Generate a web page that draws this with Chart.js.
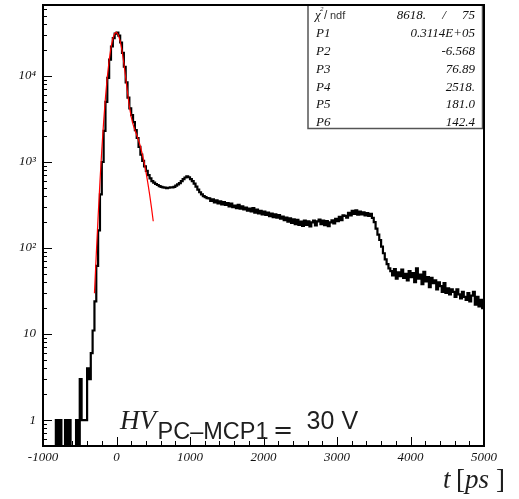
<!DOCTYPE html>
<html><head><meta charset="utf-8">
<script src="https://cdn.jsdelivr.net/npm/chart.js@4.4.0/dist/chart.umd.min.js"></script>
<style>html,body{margin:0;padding:0;background:#fff;overflow:hidden}</style>
</head><body>
<canvas id="c" width="519" height="499"></canvas>
<script>
// ---- data ----
const binStart = -1000;   // ps, left edge of first bin
const binWidth = 25;      // ps
const counts = [
  0,0,0,0,0,0,0,1,0,1,                         // -1000 .. -775
  0,0,1,0,1,0,0,0,1,0,                         // -750 .. -525
  3,1,1,1,4,3,6,11,24,62,                      // -500 .. -275
  160,420,1000,2300,5000,9500,15500,22000,27500,31000,   // -250 .. -25
  32000,29500,24500,18500,12800,8400,5600,4200,3500,2900, // 0 .. 225
  2350,1900,1500,1220,1030,890,790,705,645,600,           // 250 .. 475
  575,555,540,525,515,508,503,498,502,508,     // 500 .. 725
  505,515,530,548,568,600,632,660,682,665,     // 750 .. 975
  632,598,560,518,478,445,420,402,390,381,     // 1000 .. 1225
  378,352,368,340,358,330,348,322,341,318,     // 1250 .. 1475
  332,305,328,298,312,290,318,286,305,281,     // 1500 .. 1725
  296,272,288,266,292,258,279,252,270,246,     // 1750 .. 1975
  266,243,258,234,252,228,247,225,242,219,     // 2000 .. 2225
  232,211,226,203,222,196,216,190,212,186,     // 2250 .. 2475
  203,181,209,186,204,179,199,208,183,204,     // 2500 .. 2725
  214,189,208,184,205,180,199,210,193,219,     // 2750 .. 2975
  205,230,211,240,236,226,256,240,270,250,     // 3000 .. 3225
  275,245,266,246,259,240,254,236,249,224,     // 3250 .. 3475
  200,168,143,124,104,87,74,65,58,54,          // 3500 .. 3725
  48,57,44,52,47,56,45,50,42,54,               // 3750 .. 3975
  46,51,40,58,44,49,38,53,41,46,               // 4000 .. 4225
  35,45,39,42,33,40,36,31,39,30,               // 4250 .. 4475
  34,29,33,31,27,33,29,26,31,27,               // 4500 .. 4725
  25,30,24,28,31,22,27,21,25,20                // 4750 .. 4975
];
const fitT = [-300,-275,-250,-225,-200,-175,-150,-125,-100,-75,-50,-25,0,25,50,75,100,125,150,175,200,225,250,275,300,325,350,375,400,425,450,475,500];
const fitY = [29.8,85,233,594,1384,2938,5634,9760,15241,21457,27226,31143,32149,30006,25403,19649,14059,9534,6376,4432,3340,2735,2358,2063,1787,1513,1246,995,772,580,423,299,205];
const xTickValues = [-1000,0,1000,2000,3000,4000,5000];
const xTickLabels = ['-1000','0','1000','2000','3000','4000','5000'];
const yTickValues = [1,10,100,1000,10000];
const yTickLabels = ['1','10','10\u00B2','10\u00B3','10\u2074'];
const statsNames = ['P1','P2','P3','P4','P5','P6'];
const statsValues = ['0.3114E+05','-6.568','76.89','2518.','181.0','142.4'];
const chi2Value = '8618.';
const ndfValue = '75';

// ---- build datasets ----
const EMPTY = 1e-3; // empty bins fall below the axis, as in ROOT log plots
const histPoints = counts.map((c, i) => ({x: binStart + i * binWidth, y: c > 0 ? c : EMPTY}));
histPoints.push({x: binStart + counts.length * binWidth, y: counts[counts.length - 1] > 0 ? counts[counts.length - 1] : EMPTY});
const fitPoints = fitT.map((t, i) => ({x: t, y: fitY[i]}));

const SERIF = '"Liberation Serif","DejaVu Serif",serif';
const SANS = '"Liberation Sans","DejaVu Sans",sans-serif';

const rootPlugin = {
  id: 'rootDecor',
  afterDatasetsDraw(chart) {
    const {ctx, chartArea: a, scales: {x, y}} = chart;
    ctx.save();
    // tick marks (inside the frame)
    ctx.strokeStyle = '#000';
    ctx.lineWidth = 1;
    ctx.beginPath();
    for (let v = -1000; v <= 5000; v += 200) {
      const px = Math.round(x.getPixelForValue(v)) + 0.5;
      const len = (Math.abs(v) % 1000 === 0) ? 9 : 5;
      ctx.moveTo(px, a.bottom); ctx.lineTo(px, a.bottom - len);
    }
    for (let d = -1; d <= 4; d++) {
      for (let m = 1; m <= 9; m++) {
        const v = m * Math.pow(10, d);
        if (v <= y.min || v >= y.max) continue;
        const py = Math.round(y.getPixelForValue(v)) + 0.5;
        const len = m === 1 ? 9 : 4;
        ctx.moveTo(a.left, py); ctx.lineTo(a.left + len, py);
      }
    }
    ctx.stroke();

    // stats box
    const bx = 308, by = a.top, bw = a.right - 1.5 - bx, bh = 128.5 - a.top;
    ctx.fillStyle = '#fff';
    ctx.fillRect(bx, by, bw, bh);
    ctx.strokeStyle = '#555';
    ctx.lineWidth = 1.5;
    ctx.strokeRect(bx, by, bw, bh);

    ctx.fillStyle = '#111';
    ctx.textBaseline = 'alphabetic';
    const rowY = i => 19.3 + 17.8 * i;
    const lx = 315, rx = 475;
    // chi2/ndf row
    ctx.textAlign = 'left';
    ctx.font = 'italic 13px ' + SERIF;
    ctx.fillText('\u03C7', lx, rowY(0));
    ctx.font = 'italic 7px ' + SERIF;
    ctx.fillText('2', lx + 5, rowY(0) - 8);
    ctx.font = '12px ' + SANS;
    ctx.fillStyle = '#333';
    ctx.fillText('/', lx + 9, rowY(0));
    ctx.font = '11px ' + SANS;
    ctx.fillText('ndf', lx + 15, rowY(0));
    ctx.fillStyle = '#111';
    ctx.font = 'italic 13px ' + SERIF;
    ctx.textAlign = 'right';
    ctx.fillText(chi2Value, 426, rowY(0));
    ctx.textAlign = 'center';
    ctx.fillText('/', 444, rowY(0));
    ctx.textAlign = 'right';
    ctx.fillText(ndfValue, rx, rowY(0));
    statsNames.forEach((n, i) => {
      ctx.textAlign = 'left';
      ctx.fillText(n, lx + 1, rowY(i + 1));
      ctx.textAlign = 'right';
      ctx.fillText(statsValues[i], rx, rowY(i + 1));
    });

    // frame
    ctx.strokeStyle = '#000';
    ctx.lineWidth = 2;
    ctx.strokeRect(a.left, a.top, a.right - a.left, a.bottom - a.top);

    // annotation  HV_{PC-MCP1} = 30 V
    ctx.fillStyle = '#1e1e1e';
    ctx.textAlign = 'left';
    ctx.font = 'italic 27px ' + SERIF;
    ctx.fillText('HV', 120, 429);
    ctx.font = '23.5px ' + SANS;
    ctx.fillText('PC\u2013MCP1', 157.5, 439);
    ctx.font = '24px "DejaVu Sans",sans-serif';
    ctx.fillText('=', 273, 438);
    ctx.font = '25px ' + SANS;
    ctx.fillText('30', 306.5, 429.3);
    ctx.fillText('V', 341.5, 429.3);

    // axis title  t [ps]
    ctx.fillStyle = '#1e1e1e';
    ctx.font = 'italic 27px ' + SERIF;
    ctx.fillText('t', 443, 488);
    ctx.font = '27px ' + SERIF;
    ctx.fillText('[', 456, 488);
    ctx.font = 'italic 27px ' + SERIF;
    ctx.fillText('ps', 465, 488);
    ctx.font = '27px ' + SERIF;
    ctx.fillText(']', 496, 488);
    ctx.restore();
  }
};

new Chart(document.getElementById('c'), {
  type: 'line',
  data: {
    datasets: [
      {label: 'fit', data: fitPoints, borderColor: '#ff0000', borderWidth: 1.2, pointRadius: 0, fill: false, tension: 0},
      {label: 'hist', data: histPoints, borderColor: '#000', borderWidth: 2.2, pointRadius: 0, fill: false, stepped: 'before'}
    ]
  },
  options: {
    responsive: false,
    animation: false,
    devicePixelRatio: 1,
    layout: {padding: {left: 0, right: 35, top: 5, bottom: 0}},
    plugins: {legend: {display: false}, tooltip: {enabled: false}},
    scales: {
      x: {
        type: 'linear', min: -1000, max: 5000,
        afterBuildTicks: s => { s.ticks = xTickValues.map(v => ({value: v})); },
        afterFit: s => { s.height = 53; s.paddingLeft = 0; s.paddingRight = 0; },
        grid: {display: false, drawTicks: false},
        border: {display: false},
        ticks: {
          autoSkip: false, maxRotation: 0, padding: 4, color: '#111',
          font: {family: SERIF, size: 13, style: 'italic'},
          callback: v => xTickLabels[xTickValues.indexOf(v)]
        }
      },
      y: {
        type: 'logarithmic', min: 0.5, max: 66800,
        afterBuildTicks: s => { s.ticks = yTickValues.map(v => ({value: v})); },
        afterFit: s => { s.width = 43; s.paddingTop = 0; s.paddingBottom = 0; },
        grid: {display: false, drawTicks: false},
        border: {display: false},
        ticks: {
          autoSkip: false, padding: 7, color: '#111',
          font: {family: SERIF, size: 13, style: 'italic'},
          callback: v => yTickLabels[yTickValues.indexOf(v)]
        }
      }
    }
  },
  plugins: [rootPlugin]
});
</script>
</body></html>
